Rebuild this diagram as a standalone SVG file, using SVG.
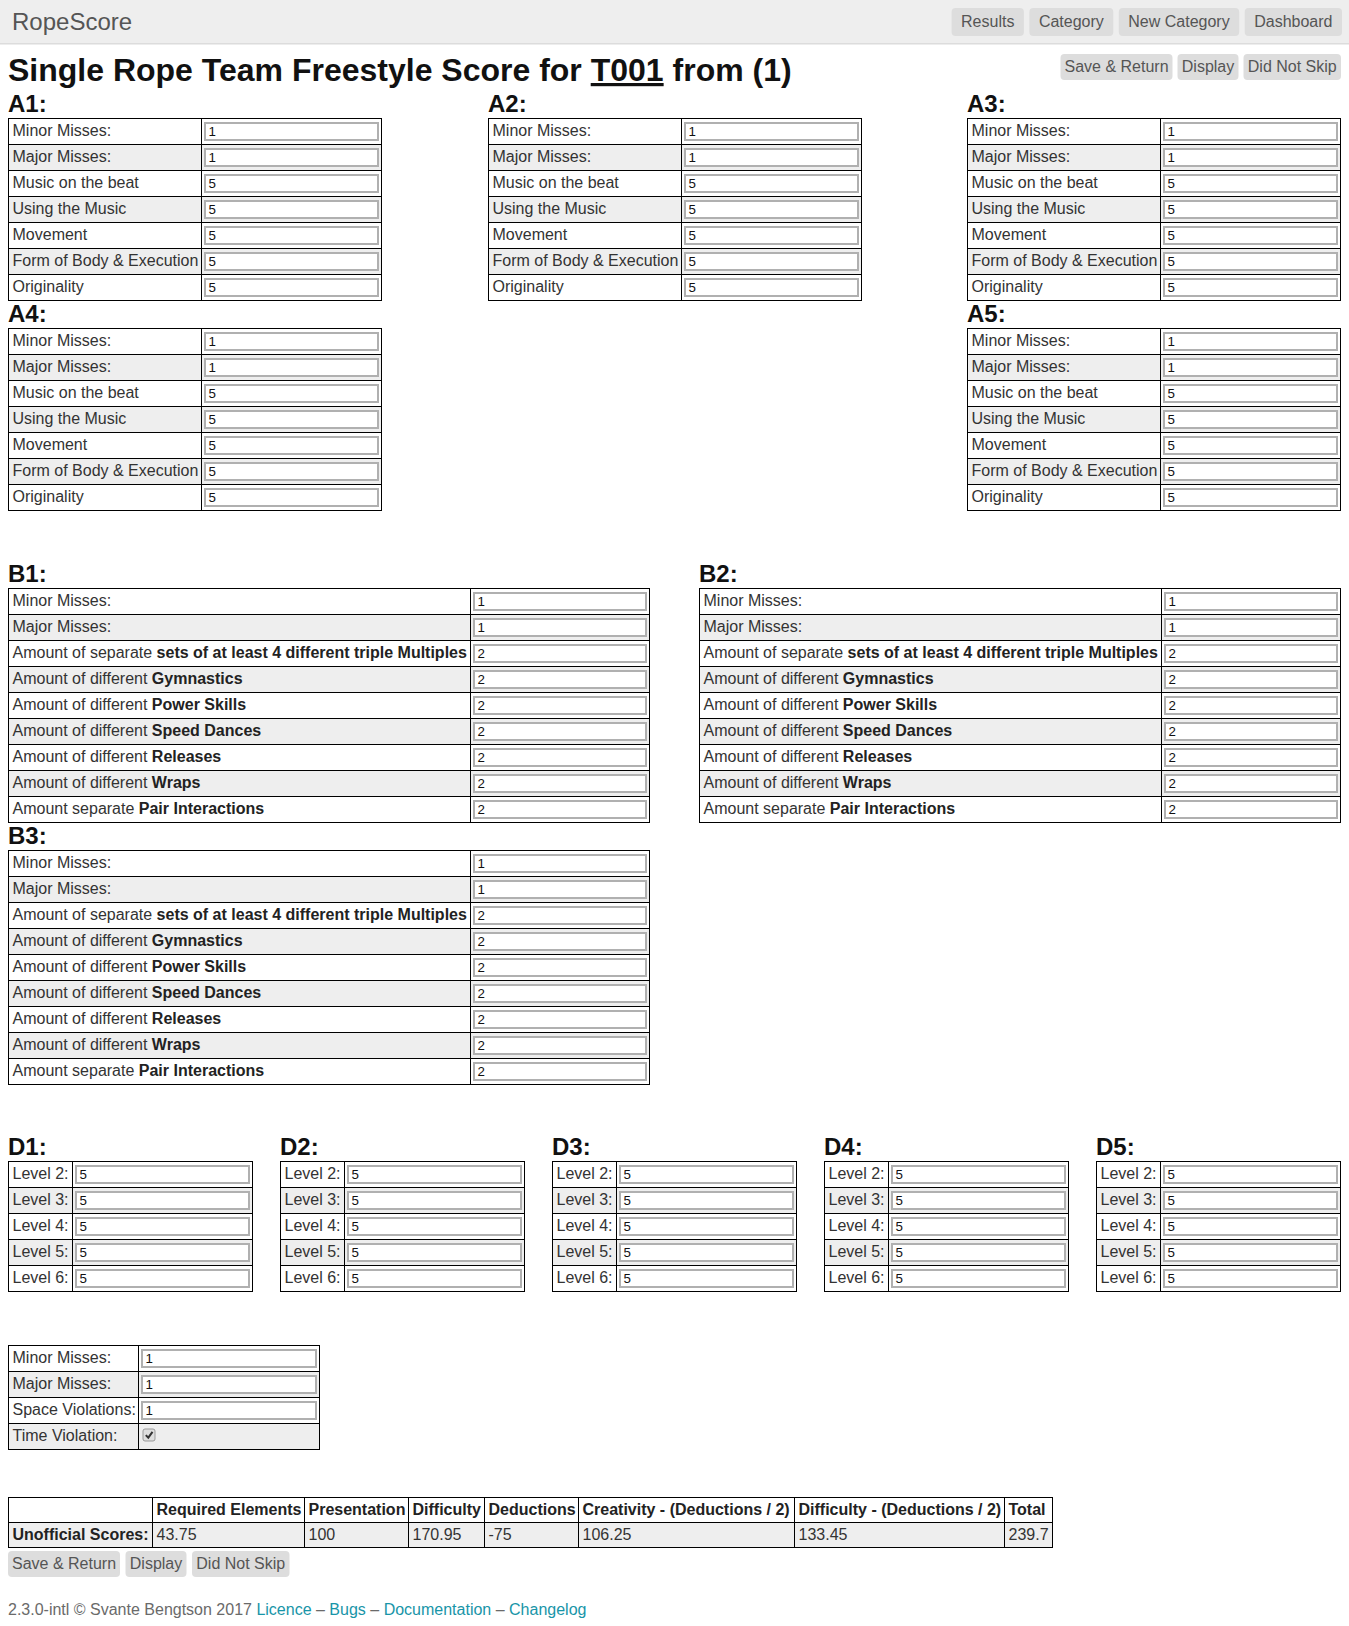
<svg xmlns="http://www.w3.org/2000/svg" xmlns:xlink="http://www.w3.org/1999/xlink" width="1349" height="1626" viewBox="0 0 1349 1626">
<style>
text{font-family:"Liberation Sans",Arial,Helvetica,sans-serif}
.l{font-size:16px;fill:#333}
.bd{font-weight:bold;fill:#222}
.v{font-size:13.33px;fill:#111}
.h{font-size:24px;font-weight:bold;fill:#111}
.st{fill:#eeeeee}
.in{fill:#fff;stroke:#b0b0b0;stroke-width:2}
.gl{fill:none;stroke:#000;stroke-width:1}
.btn{fill:#dddddd}
.bt{font-size:16px;fill:#555;text-anchor:middle}
</style>
<defs>
<g id="fa">
<rect class="st" x="0" y="26" width="373" height="26"/><rect class="st" x="0" y="78" width="373" height="26"/><rect class="st" x="0" y="130" width="373" height="26"/>
<rect class="in" x="196.5" y="4.5" width="173" height="17"/><rect class="in" x="196.5" y="30.5" width="173" height="17"/><rect class="in" x="196.5" y="56.5" width="173" height="17"/><rect class="in" x="196.5" y="82.5" width="173" height="17"/><rect class="in" x="196.5" y="108.5" width="173" height="17"/><rect class="in" x="196.5" y="134.5" width="173" height="17"/><rect class="in" x="196.5" y="160.5" width="173" height="17"/>
<path class="gl" d="M0 26H373M0 52H373M0 78H373M0 104H373M0 130H373M0 156H373M193 0V182"/>
<rect class="gl" x="0" y="0" width="373" height="182"/>
</g>
<g id="fb">
<rect class="st" x="0" y="26" width="641" height="26"/><rect class="st" x="0" y="78" width="641" height="26"/><rect class="st" x="0" y="130" width="641" height="26"/><rect class="st" x="0" y="182" width="641" height="26"/>
<rect class="in" x="465.5" y="4.5" width="172" height="17"/><rect class="in" x="465.5" y="30.5" width="172" height="17"/><rect class="in" x="465.5" y="56.5" width="172" height="17"/><rect class="in" x="465.5" y="82.5" width="172" height="17"/><rect class="in" x="465.5" y="108.5" width="172" height="17"/><rect class="in" x="465.5" y="134.5" width="172" height="17"/><rect class="in" x="465.5" y="160.5" width="172" height="17"/><rect class="in" x="465.5" y="186.5" width="172" height="17"/><rect class="in" x="465.5" y="212.5" width="172" height="17"/>
<path class="gl" d="M0 26H641M0 52H641M0 78H641M0 104H641M0 130H641M0 156H641M0 182H641M0 208H641M462 0V234"/>
<rect class="gl" x="0" y="0" width="641" height="234"/>
</g>
<g id="fd">
<rect class="st" x="0" y="26" width="244" height="26"/><rect class="st" x="0" y="78" width="244" height="26"/>
<rect class="in" x="67.5" y="4.5" width="173" height="17"/><rect class="in" x="67.5" y="30.5" width="173" height="17"/><rect class="in" x="67.5" y="56.5" width="173" height="17"/><rect class="in" x="67.5" y="82.5" width="173" height="17"/><rect class="in" x="67.5" y="108.5" width="173" height="17"/>
<path class="gl" d="M0 26H244M0 52H244M0 78H244M0 104H244M64 0V130"/>
<rect class="gl" x="0" y="0" width="244" height="130"/>
</g>
</defs>

<g id="navbar">
<rect x="0" y="0" width="1349" height="44" fill="#eeeeee"/>
<rect x="0" y="43" width="1349" height="1.5" fill="#dcdcdc"/>
<text x="12" y="29.5" font-size="24" fill="#555">RopeScore</text>
<rect class="btn" x="951.6" y="8" width="72.3" height="28" rx="4"/><text class="bt" x="987.75" y="26.8">Results</text>
<rect class="btn" x="1029.4" y="8" width="83.9" height="28" rx="4"/><text class="bt" x="1071.35" y="26.8">Category</text>
<rect class="btn" x="1118.8" y="8" width="120.4" height="28" rx="4"/><text class="bt" x="1179" y="26.8">New Category</text>
<rect class="btn" x="1244.7" y="8" width="97.3" height="28" rx="4"/><text class="bt" x="1293.35" y="26.8">Dashboard</text>
</g>

<g id="title">
<text x="8" y="81" font-size="32" font-weight="bold" fill="#111">Single Rope Team Freestyle Score for <tspan text-decoration="underline">T001</tspan> from (1)</text>
</g>
<g id="top-actions">
<rect class="btn" x="1060.5" y="54" width="112" height="26" rx="4"/><text class="bt" x="1116.5" y="71.7">Save &amp; Return</text>
<rect class="btn" x="1177.5" y="54" width="61" height="26" rx="4"/><text class="bt" x="1208" y="71.7">Display</text>
<rect class="btn" x="1243.5" y="54" width="97.5" height="26" rx="4"/><text class="bt" x="1292.25" y="71.7">Did Not Skip</text>
</g>

<g id="A1" transform="translate(8.5,118.5)"><use xlink:href="#fa" href="#fa"/>
<text class="h" x="-0.5" y="-7">A1:</text>
<text class="l"><tspan x="4" y="17.7">Minor Misses:</tspan><tspan x="4" y="43.7">Major Misses:</tspan><tspan x="4" y="69.7">Music on the beat</tspan><tspan x="4" y="95.7">Using the Music</tspan><tspan x="4" y="121.7">Movement</tspan><tspan x="4" y="147.7">Form of Body &amp; Execution</tspan><tspan x="4" y="173.7">Originality</tspan></text>
<text class="v"><tspan x="200" y="17.2">1</tspan><tspan x="200" y="43.2">1</tspan><tspan x="200" y="69.2">5</tspan><tspan x="200" y="95.2">5</tspan><tspan x="200" y="121.2">5</tspan><tspan x="200" y="147.2">5</tspan><tspan x="200" y="173.2">5</tspan></text>
</g>
<g id="A2" transform="translate(488.5,118.5)"><use xlink:href="#fa" href="#fa"/>
<text class="h" x="-0.5" y="-7">A2:</text>
<text class="l"><tspan x="4" y="17.7">Minor Misses:</tspan><tspan x="4" y="43.7">Major Misses:</tspan><tspan x="4" y="69.7">Music on the beat</tspan><tspan x="4" y="95.7">Using the Music</tspan><tspan x="4" y="121.7">Movement</tspan><tspan x="4" y="147.7">Form of Body &amp; Execution</tspan><tspan x="4" y="173.7">Originality</tspan></text>
<text class="v"><tspan x="200" y="17.2">1</tspan><tspan x="200" y="43.2">1</tspan><tspan x="200" y="69.2">5</tspan><tspan x="200" y="95.2">5</tspan><tspan x="200" y="121.2">5</tspan><tspan x="200" y="147.2">5</tspan><tspan x="200" y="173.2">5</tspan></text>
</g>
<g id="A3" transform="translate(967.5,118.5)"><use xlink:href="#fa" href="#fa"/>
<text class="h" x="-0.5" y="-7">A3:</text>
<text class="l"><tspan x="4" y="17.7">Minor Misses:</tspan><tspan x="4" y="43.7">Major Misses:</tspan><tspan x="4" y="69.7">Music on the beat</tspan><tspan x="4" y="95.7">Using the Music</tspan><tspan x="4" y="121.7">Movement</tspan><tspan x="4" y="147.7">Form of Body &amp; Execution</tspan><tspan x="4" y="173.7">Originality</tspan></text>
<text class="v"><tspan x="200" y="17.2">1</tspan><tspan x="200" y="43.2">1</tspan><tspan x="200" y="69.2">5</tspan><tspan x="200" y="95.2">5</tspan><tspan x="200" y="121.2">5</tspan><tspan x="200" y="147.2">5</tspan><tspan x="200" y="173.2">5</tspan></text>
</g>
<g id="A4" transform="translate(8.5,328.5)"><use xlink:href="#fa" href="#fa"/>
<text class="h" x="-0.5" y="-7">A4:</text>
<text class="l"><tspan x="4" y="17.7">Minor Misses:</tspan><tspan x="4" y="43.7">Major Misses:</tspan><tspan x="4" y="69.7">Music on the beat</tspan><tspan x="4" y="95.7">Using the Music</tspan><tspan x="4" y="121.7">Movement</tspan><tspan x="4" y="147.7">Form of Body &amp; Execution</tspan><tspan x="4" y="173.7">Originality</tspan></text>
<text class="v"><tspan x="200" y="17.2">1</tspan><tspan x="200" y="43.2">1</tspan><tspan x="200" y="69.2">5</tspan><tspan x="200" y="95.2">5</tspan><tspan x="200" y="121.2">5</tspan><tspan x="200" y="147.2">5</tspan><tspan x="200" y="173.2">5</tspan></text>
</g>
<g id="A5" transform="translate(967.5,328.5)"><use xlink:href="#fa" href="#fa"/>
<text class="h" x="-0.5" y="-7">A5:</text>
<text class="l"><tspan x="4" y="17.7">Minor Misses:</tspan><tspan x="4" y="43.7">Major Misses:</tspan><tspan x="4" y="69.7">Music on the beat</tspan><tspan x="4" y="95.7">Using the Music</tspan><tspan x="4" y="121.7">Movement</tspan><tspan x="4" y="147.7">Form of Body &amp; Execution</tspan><tspan x="4" y="173.7">Originality</tspan></text>
<text class="v"><tspan x="200" y="17.2">1</tspan><tspan x="200" y="43.2">1</tspan><tspan x="200" y="69.2">5</tspan><tspan x="200" y="95.2">5</tspan><tspan x="200" y="121.2">5</tspan><tspan x="200" y="147.2">5</tspan><tspan x="200" y="173.2">5</tspan></text>
</g>

<g id="B1" transform="translate(8.5,588.5)"><use xlink:href="#fb" href="#fb"/>
<text class="h" x="-0.5" y="-7">B1:</text>
<text class="l"><tspan x="4" y="17.7">Minor Misses:</tspan><tspan x="4" y="43.7">Major Misses:</tspan><tspan x="4" y="69.7">Amount of separate <tspan class="bd">sets of at least 4 different triple Multiples</tspan></tspan><tspan x="4" y="95.7">Amount of different <tspan class="bd">Gymnastics</tspan></tspan><tspan x="4" y="121.7">Amount of different <tspan class="bd">Power Skills</tspan></tspan><tspan x="4" y="147.7">Amount of different <tspan class="bd">Speed Dances</tspan></tspan><tspan x="4" y="173.7">Amount of different <tspan class="bd">Releases</tspan></tspan><tspan x="4" y="199.7">Amount of different <tspan class="bd">Wraps</tspan></tspan><tspan x="4" y="225.7">Amount separate <tspan class="bd">Pair Interactions</tspan></tspan></text>
<text class="v"><tspan x="469" y="17.2">1</tspan><tspan x="469" y="43.2">1</tspan><tspan x="469" y="69.2">2</tspan><tspan x="469" y="95.2">2</tspan><tspan x="469" y="121.2">2</tspan><tspan x="469" y="147.2">2</tspan><tspan x="469" y="173.2">2</tspan><tspan x="469" y="199.2">2</tspan><tspan x="469" y="225.2">2</tspan></text>
</g>
<g id="B2" transform="translate(699.5,588.5)"><use xlink:href="#fb" href="#fb"/>
<text class="h" x="-0.5" y="-7">B2:</text>
<text class="l"><tspan x="4" y="17.7">Minor Misses:</tspan><tspan x="4" y="43.7">Major Misses:</tspan><tspan x="4" y="69.7">Amount of separate <tspan class="bd">sets of at least 4 different triple Multiples</tspan></tspan><tspan x="4" y="95.7">Amount of different <tspan class="bd">Gymnastics</tspan></tspan><tspan x="4" y="121.7">Amount of different <tspan class="bd">Power Skills</tspan></tspan><tspan x="4" y="147.7">Amount of different <tspan class="bd">Speed Dances</tspan></tspan><tspan x="4" y="173.7">Amount of different <tspan class="bd">Releases</tspan></tspan><tspan x="4" y="199.7">Amount of different <tspan class="bd">Wraps</tspan></tspan><tspan x="4" y="225.7">Amount separate <tspan class="bd">Pair Interactions</tspan></tspan></text>
<text class="v"><tspan x="469" y="17.2">1</tspan><tspan x="469" y="43.2">1</tspan><tspan x="469" y="69.2">2</tspan><tspan x="469" y="95.2">2</tspan><tspan x="469" y="121.2">2</tspan><tspan x="469" y="147.2">2</tspan><tspan x="469" y="173.2">2</tspan><tspan x="469" y="199.2">2</tspan><tspan x="469" y="225.2">2</tspan></text>
</g>
<g id="B3" transform="translate(8.5,850.5)"><use xlink:href="#fb" href="#fb"/>
<text class="h" x="-0.5" y="-7">B3:</text>
<text class="l"><tspan x="4" y="17.7">Minor Misses:</tspan><tspan x="4" y="43.7">Major Misses:</tspan><tspan x="4" y="69.7">Amount of separate <tspan class="bd">sets of at least 4 different triple Multiples</tspan></tspan><tspan x="4" y="95.7">Amount of different <tspan class="bd">Gymnastics</tspan></tspan><tspan x="4" y="121.7">Amount of different <tspan class="bd">Power Skills</tspan></tspan><tspan x="4" y="147.7">Amount of different <tspan class="bd">Speed Dances</tspan></tspan><tspan x="4" y="173.7">Amount of different <tspan class="bd">Releases</tspan></tspan><tspan x="4" y="199.7">Amount of different <tspan class="bd">Wraps</tspan></tspan><tspan x="4" y="225.7">Amount separate <tspan class="bd">Pair Interactions</tspan></tspan></text>
<text class="v"><tspan x="469" y="17.2">1</tspan><tspan x="469" y="43.2">1</tspan><tspan x="469" y="69.2">2</tspan><tspan x="469" y="95.2">2</tspan><tspan x="469" y="121.2">2</tspan><tspan x="469" y="147.2">2</tspan><tspan x="469" y="173.2">2</tspan><tspan x="469" y="199.2">2</tspan><tspan x="469" y="225.2">2</tspan></text>
</g>

<g id="D1" transform="translate(8.5,1161.5)"><use xlink:href="#fd" href="#fd"/>
<text class="h" x="-0.5" y="-7">D1:</text>
<text class="l"><tspan x="4" y="17.7">Level 2:</tspan><tspan x="4" y="43.7">Level 3:</tspan><tspan x="4" y="69.7">Level 4:</tspan><tspan x="4" y="95.7">Level 5:</tspan><tspan x="4" y="121.7">Level 6:</tspan></text>
<text class="v"><tspan x="71" y="17.2">5</tspan><tspan x="71" y="43.2">5</tspan><tspan x="71" y="69.2">5</tspan><tspan x="71" y="95.2">5</tspan><tspan x="71" y="121.2">5</tspan></text>
</g>
<g id="D2" transform="translate(280.5,1161.5)"><use xlink:href="#fd" href="#fd"/>
<text class="h" x="-0.5" y="-7">D2:</text>
<text class="l"><tspan x="4" y="17.7">Level 2:</tspan><tspan x="4" y="43.7">Level 3:</tspan><tspan x="4" y="69.7">Level 4:</tspan><tspan x="4" y="95.7">Level 5:</tspan><tspan x="4" y="121.7">Level 6:</tspan></text>
<text class="v"><tspan x="71" y="17.2">5</tspan><tspan x="71" y="43.2">5</tspan><tspan x="71" y="69.2">5</tspan><tspan x="71" y="95.2">5</tspan><tspan x="71" y="121.2">5</tspan></text>
</g>
<g id="D3" transform="translate(552.5,1161.5)"><use xlink:href="#fd" href="#fd"/>
<text class="h" x="-0.5" y="-7">D3:</text>
<text class="l"><tspan x="4" y="17.7">Level 2:</tspan><tspan x="4" y="43.7">Level 3:</tspan><tspan x="4" y="69.7">Level 4:</tspan><tspan x="4" y="95.7">Level 5:</tspan><tspan x="4" y="121.7">Level 6:</tspan></text>
<text class="v"><tspan x="71" y="17.2">5</tspan><tspan x="71" y="43.2">5</tspan><tspan x="71" y="69.2">5</tspan><tspan x="71" y="95.2">5</tspan><tspan x="71" y="121.2">5</tspan></text>
</g>
<g id="D4" transform="translate(824.5,1161.5)"><use xlink:href="#fd" href="#fd"/>
<text class="h" x="-0.5" y="-7">D4:</text>
<text class="l"><tspan x="4" y="17.7">Level 2:</tspan><tspan x="4" y="43.7">Level 3:</tspan><tspan x="4" y="69.7">Level 4:</tspan><tspan x="4" y="95.7">Level 5:</tspan><tspan x="4" y="121.7">Level 6:</tspan></text>
<text class="v"><tspan x="71" y="17.2">5</tspan><tspan x="71" y="43.2">5</tspan><tspan x="71" y="69.2">5</tspan><tspan x="71" y="95.2">5</tspan><tspan x="71" y="121.2">5</tspan></text>
</g>
<g id="D5" transform="translate(1096.5,1161.5)"><use xlink:href="#fd" href="#fd"/>
<text class="h" x="-0.5" y="-7">D5:</text>
<text class="l"><tspan x="4" y="17.7">Level 2:</tspan><tspan x="4" y="43.7">Level 3:</tspan><tspan x="4" y="69.7">Level 4:</tspan><tspan x="4" y="95.7">Level 5:</tspan><tspan x="4" y="121.7">Level 6:</tspan></text>
<text class="v"><tspan x="71" y="17.2">5</tspan><tspan x="71" y="43.2">5</tspan><tspan x="71" y="69.2">5</tspan><tspan x="71" y="95.2">5</tspan><tspan x="71" y="121.2">5</tspan></text>
</g>

<g id="deductions" transform="translate(8.5,1345.5)">
<rect class="st" x="0" y="26" width="311" height="26"/><rect class="st" x="0" y="78" width="311" height="26"/>
<rect class="in" x="133.5" y="4.5" width="174" height="17"/><rect class="in" x="133.5" y="30.5" width="174" height="17"/><rect class="in" x="133.5" y="56.5" width="174" height="17"/>
<rect x="134.5" y="83.5" width="12" height="12" rx="2" fill="#dedede" stroke="#9a9a9a" stroke-width="1"/>
<path d="M137.3 89.6L139.8 92.2L144 86.3" fill="none" stroke="#333" stroke-width="2"/>
<path class="gl" d="M0 26H311M0 52H311M0 78H311M130 0V104"/>
<rect class="gl" x="0" y="0" width="311" height="104"/>
<text class="l"><tspan x="4" y="17.7">Minor Misses:</tspan><tspan x="4" y="43.7">Major Misses:</tspan><tspan x="4" y="69.7">Space Violations:</tspan><tspan x="4" y="95.7">Time Violation:</tspan></text>
<text class="v"><tspan x="137" y="17.2">1</tspan><tspan x="137" y="43.2">1</tspan><tspan x="137" y="69.2">1</tspan></text>
</g>

<g id="scores" transform="translate(8.5,1497.5)">
<rect class="st" x="0" y="25" width="1044" height="25"/>
<path class="gl" d="M0 25H1044M144 0V50M296 0V50M400 0V50M476 0V50M570 0V50M786 0V50M996 0V50"/>
<rect class="gl" x="0" y="0" width="1044" height="50"/>
<text class="l bd"><tspan x="148" y="17.4">Required Elements</tspan><tspan x="300" y="17.4">Presentation</tspan><tspan x="404" y="17.4">Difficulty</tspan><tspan x="480" y="17.4">Deductions</tspan><tspan x="574" y="17.4">Creativity - (Deductions / 2)</tspan><tspan x="790" y="17.4">Difficulty - (Deductions / 2)</tspan><tspan x="1000" y="17.4">Total</tspan><tspan x="4" y="42.4">Unofficial Scores:</tspan></text>
<text class="l"><tspan x="148" y="42.4">43.75</tspan><tspan x="300" y="42.4">100</tspan><tspan x="404" y="42.4">170.95</tspan><tspan x="480" y="42.4">-75</tspan><tspan x="574" y="42.4">106.25</tspan><tspan x="790" y="42.4">133.45</tspan><tspan x="1000" y="42.4">239.7</tspan></text>
</g>

<g id="bottom-actions">
<rect class="btn" x="8" y="1551" width="112" height="26" rx="4"/><text class="bt" x="64" y="1569.4">Save &amp; Return</text>
<rect class="btn" x="125.5" y="1551" width="61" height="26" rx="4"/><text class="bt" x="156" y="1569.4">Display</text>
<rect class="btn" x="192" y="1551" width="97.5" height="26" rx="4"/><text class="bt" x="240.75" y="1569.4">Did Not Skip</text>
</g>

<g id="footer">
<text x="8" y="1614.5" font-size="16" fill="#6a6a6a">2.3.0-intl © Svante Bengtson 2017 <tspan fill="#1895a8">Licence</tspan> – <tspan fill="#1895a8">Bugs</tspan> – <tspan fill="#1895a8">Documentation</tspan> – <tspan fill="#1895a8">Changelog</tspan></text>
</g>
</svg>
